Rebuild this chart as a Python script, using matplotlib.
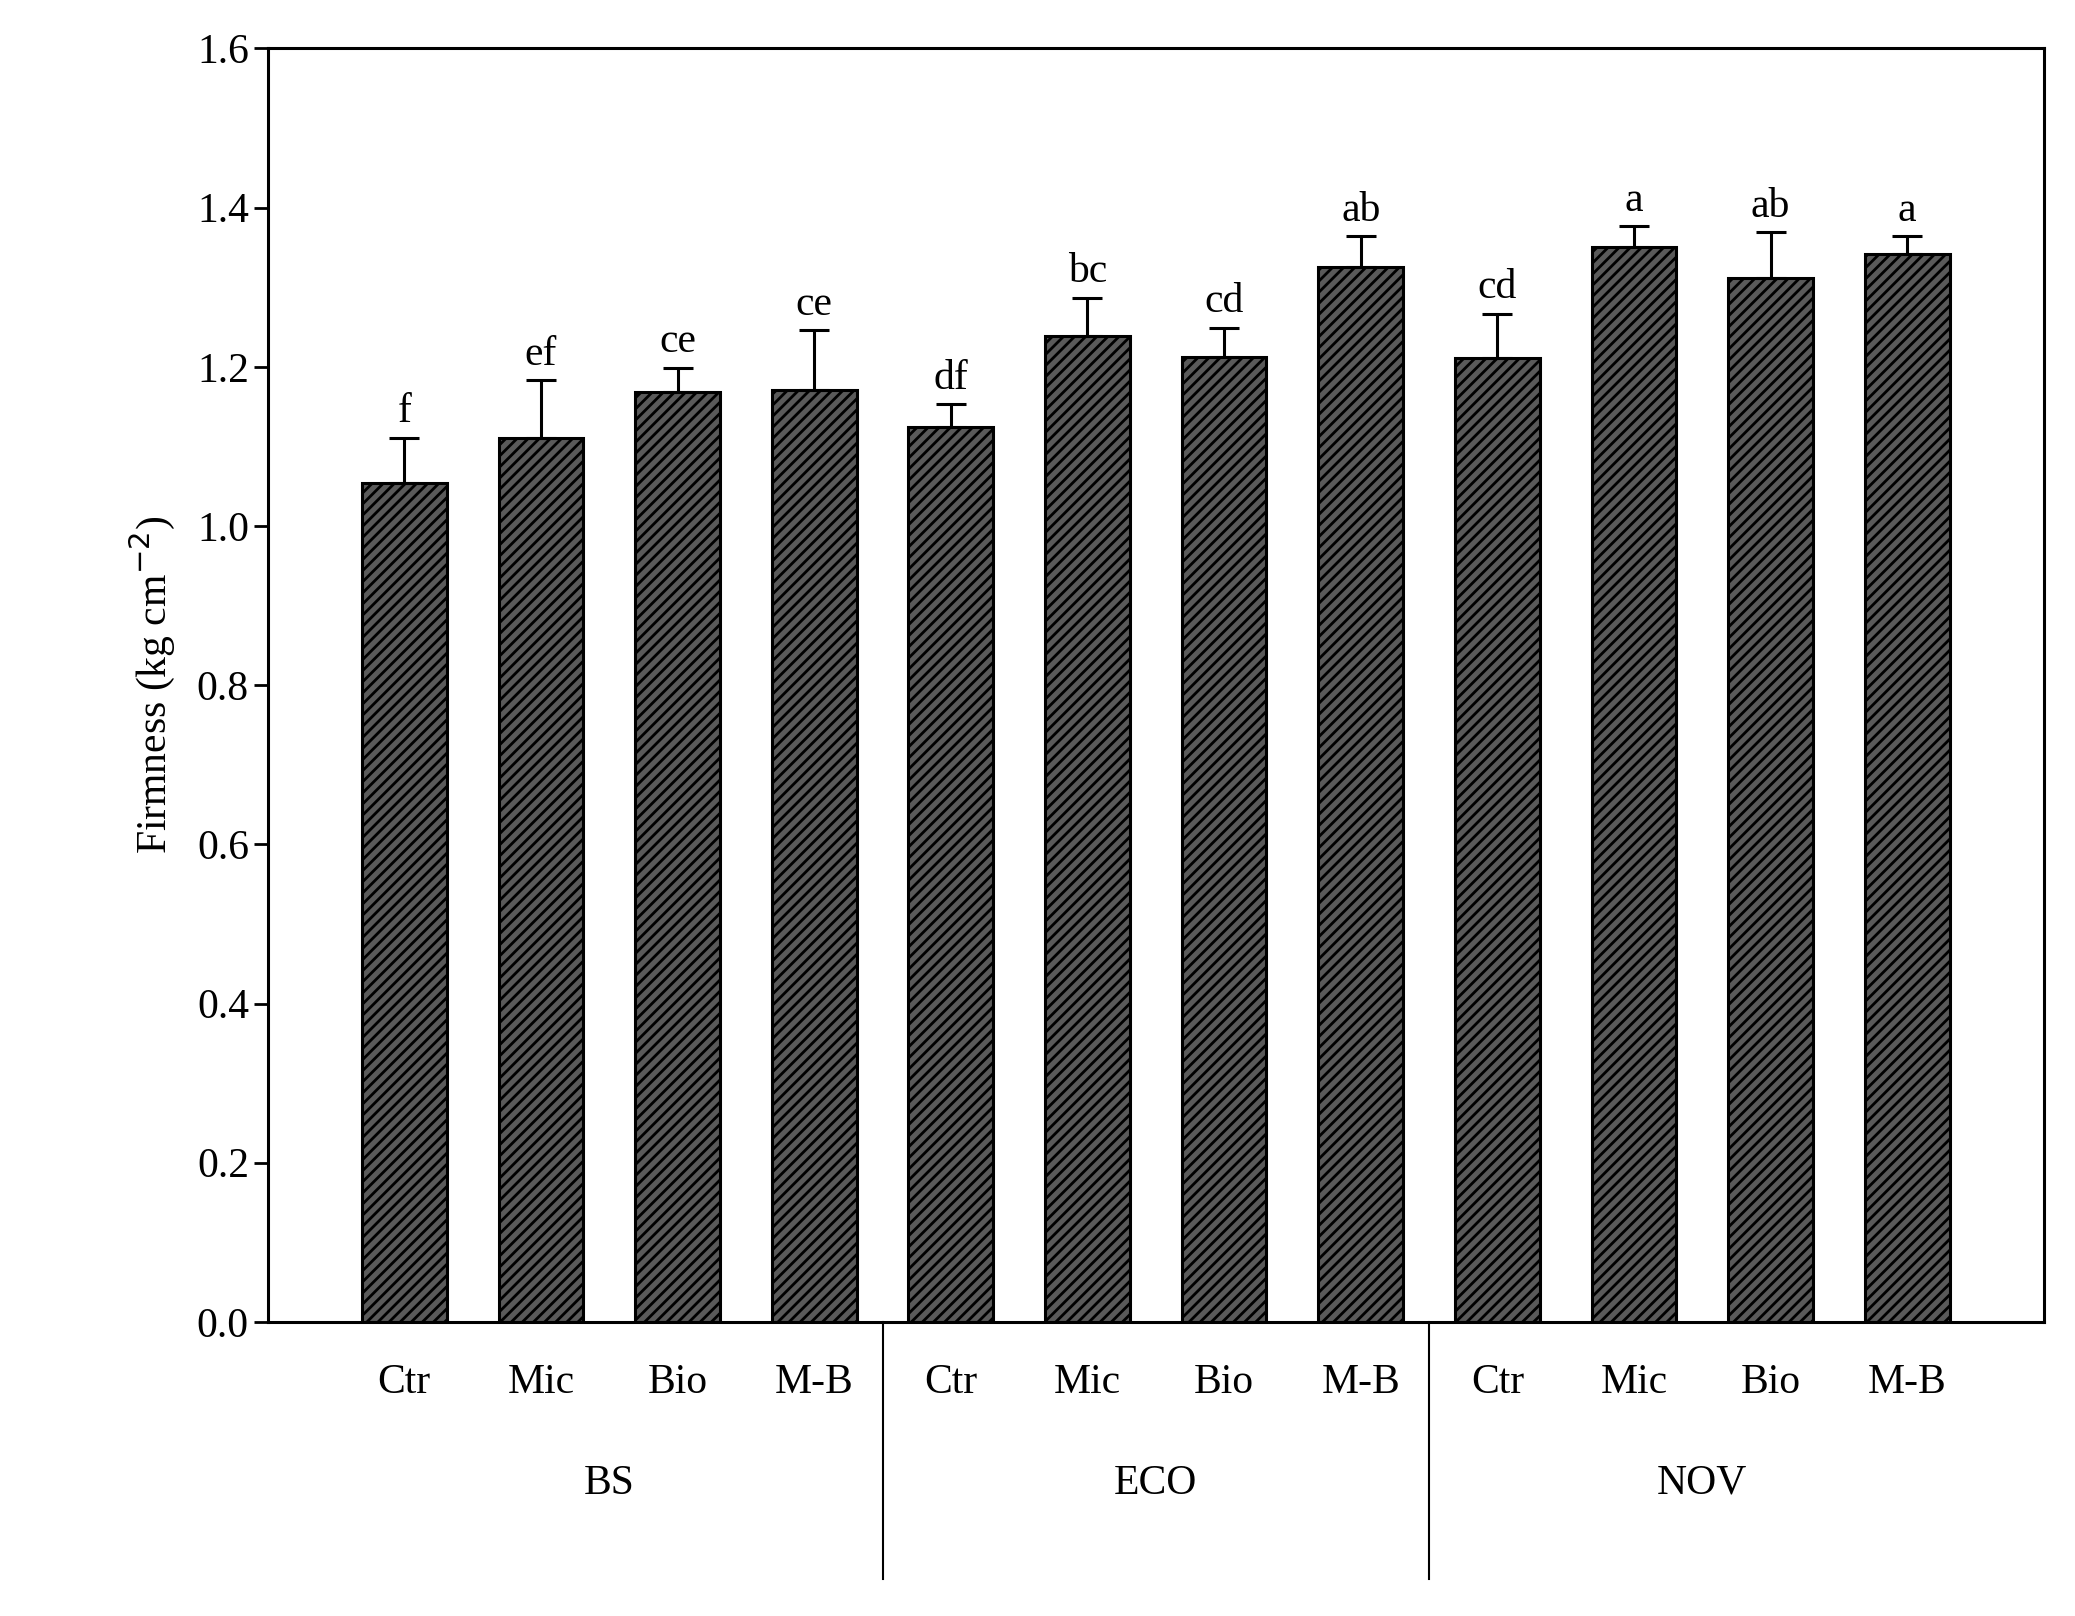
import matplotlib
matplotlib.use("Agg")
import matplotlib.pyplot as plt
import numpy as np

plt.rcParams['font.family'] = ['Liberation Serif', 'DejaVu Serif']
plt.rcParams['hatch.linewidth'] = 2.0

treatments = ["Ctr", "Mic", "Bio", "M-B"] * 3
groups = ["BS", "ECO", "NOV"]
means = [1.054, 1.111, 1.169, 1.171, 1.124, 1.239, 1.212, 1.326, 1.211, 1.350, 1.312, 1.342]
errors = [0.057, 0.072, 0.030, 0.075, 0.029, 0.048, 0.037, 0.038, 0.056, 0.027, 0.057, 0.022]
letters = ["f", "ef", "ce", "ce", "df", "bc", "cd", "ab", "cd", "a", "ab", "a"]

fig = plt.figure(figsize=(20.75, 16.16), dpi=100)
ax = fig.add_axes([0.129, 0.182, 0.856, 0.788])
x = np.arange(len(means))
ax.bar(x, means, width=0.62, color="#5a5a5a", edgecolor="black", linewidth=2.2, hatch="///", zorder=2)
ax.errorbar(x, means, yerr=[np.zeros(len(errors)), errors], fmt="none", ecolor="black",
            elinewidth=2.2, capsize=11, capthick=2.2, zorder=3)
for xi, m, e, l in zip(x, means, errors, letters):
    ax.text(xi, m + e + 0.008, l, ha="center", va="bottom", fontsize=30)

ax.set_xlim(-1, 12)
ax.set_ylim(0, 1.6)
ax.set_yticks(np.arange(0, 1.61, 0.2))
ax.set_yticklabels([f"{v:.1f}" for v in np.arange(0, 1.61, 0.2)], fontsize=30)
ax.set_xticks(x)
ax.set_xticklabels(treatments, fontsize=30)
ax.tick_params(axis="x", length=0, pad=30)
ax.tick_params(axis="y", length=10, width=2, direction="out")
for s in ax.spines.values():
    s.set_linewidth(2.2)
ax.set_ylabel("Firmness (kg cm$^{-2}$)", fontsize=30, labelpad=14)

for gi, g in enumerate(groups):
    ax.text(gi * 4 + 1.5, -0.203, g, ha="center", va="center", fontsize=30,
            transform=ax.transData)
for sep in [3.5, 7.5]:
    ax.plot([sep, sep], [0, -0.323], color="black", linewidth=1.5, clip_on=False)

fig.savefig("out.png", dpi=100)
